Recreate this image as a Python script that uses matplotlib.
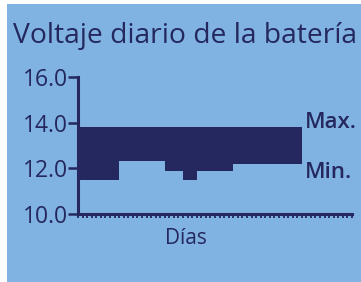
import matplotlib
matplotlib.use('Agg')
import matplotlib.pyplot as plt
from matplotlib.patches import Rectangle

# datos (días donde empieza cada tramo, voltajes)
dias_inicio = [0, 9, 19, 23, 26, 34, 49]
volt_min = [11.5, 12.3, 11.9, 11.5, 11.9, 12.2]
volt_max = [13.8, 13.8, 13.8, 13.8, 13.8, 13.8]
y_ticks = [10.0, 12.0, 14.0, 16.0]
y_labels = ['10.0', '12.0', '14.0', '16.0']
n_dias = 60

AZUL = '#80b2e2'
OSCURO = '#24285e'

plt.rcParams['font.family'] = ['Open Sans', 'DejaVu Sans']

fig = plt.figure(figsize=(3.61, 2.82), dpi=100)
fig.patch.set_facecolor('white')
fig.patches.append(Rectangle((7 / 361, 0), 1, 1 - 4 / 282, transform=fig.transFigure,
                             facecolor=AZUL, edgecolor='none', zorder=-5))

ax = fig.add_axes([78 / 361, 1 - 214 / 282, (352 - 78) / 361, (214 - 77) / 282])
ax.set_facecolor('none')
ax.set_zorder(2)

# barras del rango min-max por tramo
for i in range(len(volt_min)):
    ax.fill_between([dias_inicio[i], dias_inicio[i + 1]], volt_min[i], volt_max[i],
                    color=OSCURO, linewidth=0)

ax.set_xlim(0, n_dias)
ax.set_ylim(10, 16)
for s in ['top', 'right']:
    ax.spines[s].set_visible(False)
for s in ['left', 'bottom']:
    ax.spines[s].set_color(OSCURO)
    ax.spines[s].set_linewidth(2.2)

ax.set_yticks(y_ticks)
ax.set_yticklabels(y_labels, fontsize=16.5, color=OSCURO, fontweight='medium')
ax.tick_params(axis='y', length=7, width=1.8, color=OSCURO, pad=0.5)
ax.set_xticks(range(0, n_dias + 1))
ax.set_xticklabels([])
ax.tick_params(axis='x', length=3, width=1.3, color=OSCURO, direction='out')

fig.text(13 / 361, 1 - 36 / 282, 'Voltaje diario de la batería', fontsize=20.3,
         color=OSCURO, va='center', ha='left')
fig.text(305 / 361, 1 - 122 / 282, 'Max.', fontsize=16, color=OSCURO,
         va='center', ha='left', fontweight='semibold')
fig.text(305 / 361, 1 - 173 / 282, 'Min.', fontsize=16, color=OSCURO,
         va='center', ha='left', fontweight='semibold')
fig.text(186 / 361, 1 - 238 / 282, 'Días', fontsize=15, color=OSCURO,
         va='center', ha='center')

fig.savefig('out.png', dpi=100)
